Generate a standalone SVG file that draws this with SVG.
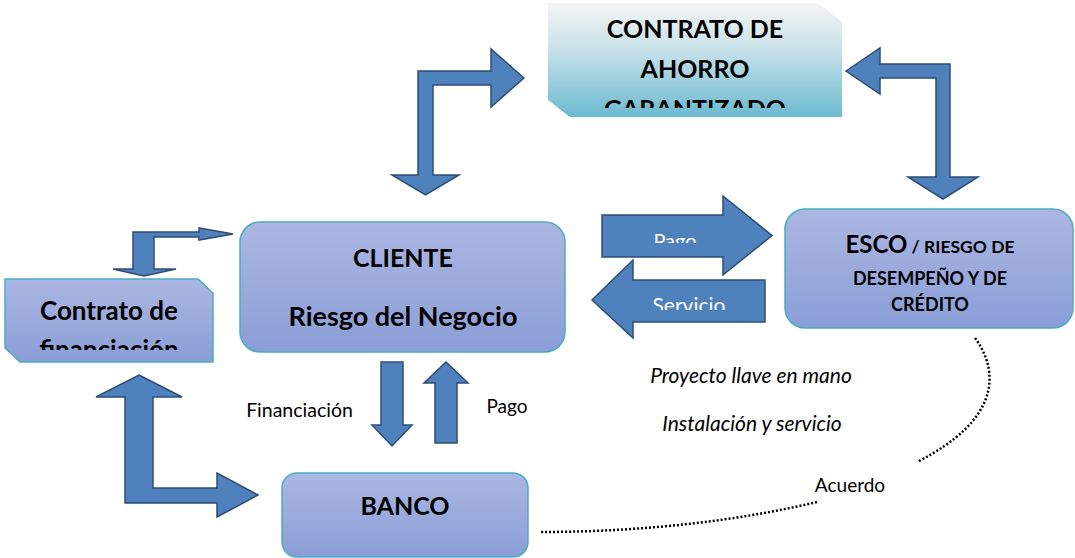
<svg xmlns="http://www.w3.org/2000/svg" width="1075" height="558" viewBox="0 0 1075 558">
<defs>
<linearGradient id="gBox" x1="0" y1="0" x2="0" y2="1">
<stop offset="0" stop-color="#abb7e2"/>
<stop offset="1" stop-color="#8a9ed6"/>
</linearGradient>
<linearGradient id="gTeal" x1="0" y1="0" x2="0" y2="1">
<stop offset="0" stop-color="#f4f4f4"/>
<stop offset="0.4" stop-color="#c9e2ea"/>
<stop offset="1" stop-color="#6cbad0"/>
</linearGradient>
<clipPath id="cTop"><rect x="540" y="0" width="310" height="108"/></clipPath>
<clipPath id="cFin"><rect x="0" y="270" width="220" height="80"/></clipPath>
<clipPath id="cPago"><rect x="600" y="200" width="130" height="43"/></clipPath>
<clipPath id="cServ"><rect x="630" y="270" width="140" height="40"/></clipPath>
</defs>
<style>
.box{fill:url(#gBox);stroke:#4bacc6;stroke-width:1.5}
.arr{fill:#4f81bd;stroke:#2c4d75;stroke-width:1.5;stroke-linejoin:miter}
.b{font-family:Lato,"Liberation Sans",sans-serif;font-weight:bold;fill:#000;text-anchor:middle}
.r{font-family:Lato,"Liberation Sans",sans-serif;fill:#000;text-anchor:middle}
.w{font-family:Lato,"Liberation Sans",sans-serif;fill:#fff;text-anchor:middle}
.dot{fill:none;stroke:#000;stroke-width:2.5;stroke-dasharray:2 2}
</style>
<g id="connectors">
<polygon class="arr" points="524,78 491,49 491,71 418,71 418,175 392,175 425.5,195 459,175 433,175 433,85 491,85 491,107"/>
<polygon class="arr" points="846,71 880,48 880,64 950,64 950,177 978,177 943,199 908,177 936,177 936,78 880,78 880,94"/>
<polygon class="arr" points="233,234 199,228 199,232 133,232 133,269 113,269 144,276 176,269 154,269 154,237 199,237 199,240"/>
<polygon class="arr" points="139,375 182,397 153,397 153,488 217,488 217,473 258,495 217,517 217,503 125,503 125,397 96,397"/>
<polygon class="arr" points="602,215 723,215 723,196 772,235.5 723,275 723,257 602,257"/>
<polygon class="arr" points="765,280 633,280 633,260 592,300 633,338 633,322 765,322"/>
<polygon class="arr" points="381,362 403,362 403,425 412,425 392,446 372,425 381,425"/>
<polygon class="arr" points="435,443 457,443 457,383 468,383 446,362 424,383 435,383"/>
<text class="w" x="675" y="248" font-size="20" clip-path="url(#cPago)">Pago</text>
<text class="w" x="689" y="313" font-size="21" clip-path="url(#cServ)">Servicio</text>
<text class="r" x="299.5" y="417" font-size="19.5">Financiación</text>
<text class="r" x="507" y="413" font-size="19">Pago</text>
<path class="dot" d="M975,338 C1000,372 1000,420 917,462"/>
<path class="dot" d="M817,502 C720,525 620,532 540,532"/>
<text class="r" x="850" y="492" font-size="19">Acuerdo</text>
<text class="r" x="751" y="383" font-size="21" font-style="italic">Proyecto llave en mano</text>
<text class="r" x="752" y="431" font-size="21" font-style="italic">Instalación y servicio</text>
</g>
<g id="contrato-ahorro">
<polygon points="548,3 818,3 842,22 842,117 570,117 548,100" fill="url(#gTeal)"/>
<g clip-path="url(#cTop)">
<text class="b" x="695" y="38" font-size="25">CONTRATO DE</text>
<text class="b" x="695" y="78" font-size="25">AHORRO</text>
<text class="b" x="695" y="118" font-size="25">GARANTIZADO</text>
</g>
</g>
<g id="contrato-financiacion">
<polygon class="box" points="5,279 198,279 213,293 213,362 20,362 5,348"/>
<g clip-path="url(#cFin)">
<text class="b" x="109" y="320" font-size="26">Contrato de</text>
<text class="b" x="109" y="359" font-size="26">financiación</text>
</g>
</g>
<g id="cliente">
<rect class="box" x="240" y="222" width="325" height="130" rx="20"/>
<text class="b" x="403" y="267" font-size="25">CLIENTE</text>
<text class="b" x="403" y="326" font-size="27">Riesgo del Negocio</text>
</g>
<g id="esco">
<rect class="box" x="785" y="209" width="288" height="119" rx="20"/>
<text class="b" x="930" y="253"><tspan font-size="24">ESCO</tspan><tspan font-size="17.5"> / RIESGO DE</tspan></text>
<text class="b" x="930" y="285" font-size="18">DESEMPEÑO Y DE</text>
<text class="b" x="930" y="311" font-size="18">CRÉDITO</text>
</g>
<g id="banco">
<rect class="box" x="282" y="473" width="246" height="84" rx="15"/>
<text class="b" x="405" y="515" font-size="25">BANCO</text>
</g>
</svg>
